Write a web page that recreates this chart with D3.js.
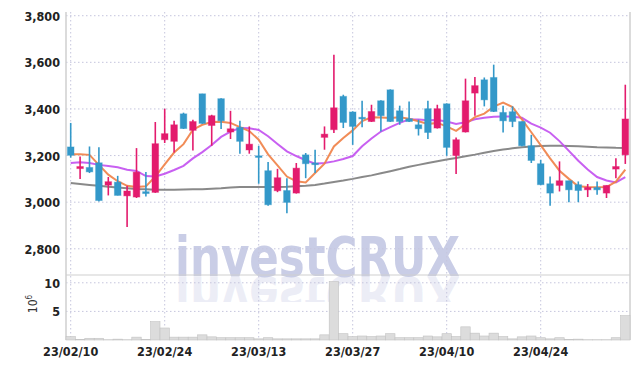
<!DOCTYPE html>
<html>
<head>
<meta charset="utf-8">
<script src="https://cdn.jsdelivr.net/npm/d3@7"></script>
<style>
body { margin: 0; background: #fff; }
text { font-family: "DejaVu Sans Condensed", "Liberation Sans Narrow", sans-serif; }
</style>
</head>
<body>
<div id="chart"></div>
<script>
var dates = ["23/02/10","23/02/13","23/02/14","23/02/15","23/02/16","23/02/17","23/02/20","23/02/21","23/02/22","23/02/23",
	"23/02/24","23/02/27","23/02/28","23/03/02","23/03/03","23/03/06","23/03/07","23/03/08","23/03/09","23/03/10",
	"23/03/13","23/03/14","23/03/15","23/03/16","23/03/17","23/03/20","23/03/21","23/03/22","23/03/23","23/03/24",
	"23/03/27","23/03/28","23/03/29","23/03/30","23/03/31","23/04/03","23/04/04","23/04/05","23/04/06","23/04/07",
	"23/04/10","23/04/11","23/04/12","23/04/13","23/04/14","23/04/17","23/04/18","23/04/19","23/04/20","23/04/21",
	"23/04/24","23/04/25","23/04/26","23/04/27","23/04/28","23/05/02","23/05/03","23/05/04","23/05/08","23/05/09"];

var open  = [3237,3144,3149,3169,3073,3086,3027,3022,3045,3042, 3268,3261,3379,3308,3465,3329,3444,3301,3321,3224,
	3199,3135,3049,3050,3039,3203,3168,3278,3311,3454, 3387,3364,3346,3435,3482,3392,3358,3332,3401,3318,
	3422,3200,3301,3468,3525,3535,3385,3388,3346,3242, 3165,3079,3072,3092,3075,3053,3063,3039,3142,3203];
var high  = [3340,3196,3239,3236,3108,3113,3070,3232,3129,3344, 3401,3349,3384,3354,3465,3375,3446,3392,3349,3325,
	3242,3172,3143,3103,3168,3211,3225,3325,3633,3461, 3390,3435,3418,3437,3484,3414,3432,3354,3435,3418,
	3424,3278,3530,3537,3535,3590,3414,3411,3346,3289, 3182,3110,3175,3092,3089,3078,3089,3072,3189,3504];
var low   = [3191,3099,3125,3003,3029,3029,2893,3018,3024,3040, 3254,3213,3314,3222,3336,3242,3314,3271,3208,3208,
	3079,2985,3043,2953,3037,3103,3125,3225,3297,3318, 3246,3322,3344,3303,3344,3332,3344,3286,3271,3316,
	3199,3121,3299,3371,3411,3387,3299,3322,3240,3168, 3073,2985,3046,3000,3000,3022,3032,3018,3103,3164];
var close = [3201,3153,3130,3007,3088,3029,3048,3129,3037,3251, 3294,3332,3316,3346,3338,3371,3349,3315,3261,3249,
	3192,2989,3105,2999,3146,3165,3161,3292,3405,3342, 3325,3358,3389,3371,3346,3346,3346,3315,3299,3401,
	3235,3268,3435,3500,3439,3389,3349,3346,3242,3179, 3075,3039,3092,3053,3050,3063,3053,3072,3153,3357];

// volume, millions
var volume = [0.6,0.1,0.3,0.3,0.05,0.15,0.05,0.5,0.1,3.2, 2.1,0.5,0.5,0.5,0.9,0.55,0.4,0.4,0.4,0.4,
	0.2,0.4,0.2,0.2,0.2,0.2,0.2,0.9,10.2,1.1, 0.6,0.7,0.6,0.7,1.1,0.4,0.4,0.4,0.7,0.55,
	1.1,0.6,2.3,1.2,0.7,1.2,0.6,0.2,0.55,0.7, 0.4,0.2,0.4,0.1,0.15,0.05,0.05,0.05,0.4,4.25];

var ma5 = [3206,3206,3203,3160,3118,3090,3070,3065,3068,3110, 3162,3213,3249,3311,3332,3344,3345,3340,3322,3305,
	3268,3205,3158,3110,3090,3085,3125,3165,3239,3275, 3308,3348,3364,3363,3361,3364,3358,3347,3336,3340,
	3325,3306,3335,3365,3380,3410,3427,3408,3355,3300, 3245,3188,3135,3100,3068,3065,3064,3065,3088,3140];
var ma20 = [3168,3171,3168,3160,3155,3150,3139,3134,3112,3110, 3122,3138,3156,3188,3215,3245,3280,3303,3318,3317,
	3310,3283,3250,3218,3198,3180,3165,3168,3175,3185, 3198,3240,3273,3303,3322,3340,3355,3355,3351,3353,
	3346,3336,3343,3356,3362,3367,3368,3367,3362,3337, 3320,3298,3262,3220,3178,3140,3108,3093,3085,3108];
var ma60 = [3082,3078,3074,3070,3066,3063,3060,3057,3055,3053, 3053,3053,3054,3055,3056,3058,3060,3063,3065,3065,
	3065,3065,3065,3066,3068,3070,3074,3080,3087,3093, 3100,3108,3115,3124,3133,3142,3152,3160,3168,3176,
	3183,3190,3197,3204,3212,3220,3226,3231,3236,3239, 3241,3242,3242,3241,3240,3238,3236,3235,3233,3232];

var priceTicks = [2800, 3000, 3200, 3400, 3600, 3800];
var volTicks = [5, 10];
var dateTicks = ["23/02/10","23/02/24","23/03/13","23/03/27","23/04/10","23/04/24"];

var upColor = "#e31b6d", downColor = "#3398c9";

var svg = d3.select("#chart")
	.append("svg")
	.attr("width", 639)
	.attr("height", 369);

var pLeft = 66, pRight = 630, pTop = 12, pMid = 275, pBottom = 340;

var x = d3.scaleBand().domain(dates).range([pLeft, pRight]).padding(0);
var cx = d => x(d) + x.bandwidth() / 2;
var y = d3.scaleLinear().domain([2687.6, 3815.9]).range([pMid, pTop]);
var yv = d3.scaleLinear().domain([0, 11.36]).range([pBottom, pMid]);

// watermark + reflection
var wm = svg.append("g");
wm.append("text")
	.attr("x", 175).attr("y", 276)
	.attr("textLength", 285).attr("lengthAdjust", "spacingAndGlyphs")
	.style("font-family", "'DejaVu Sans', sans-serif")
	.style("font-weight", "bold")
	.style("font-size", "55px")
	.attr("fill", "#c9cde6")
	.text("investCRUX");
svg.append("clipPath").attr("id", "refl")
	.append("rect").attr("x", 0).attr("y", 277).attr("width", 639).attr("height", 25);
wm.append("g")
	.attr("clip-path", "url(#refl)")
	.append("text")
	.attr("transform", "translate(0,554) scale(1,-1)")
	.attr("x", 175).attr("y", 277)
	.attr("textLength", 285).attr("lengthAdjust", "spacingAndGlyphs")
	.style("font-family", "'DejaVu Sans', sans-serif")
	.style("font-weight", "bold")
	.style("font-size", "55px")
	.attr("fill", "#c9cde6")
	.attr("fill-opacity", 0.35)
	.text("investCRUX");

// grid
svg.selectAll(".hgrid")
	.data(priceTicks)
	.enter()
	.append("line")
	.attr("class", "hgrid")
	.attr("x1", pLeft).attr("x2", pRight)
	.attr("y1", d => y(d)).attr("y2", d => y(d))
	.attr("stroke", "#c5c5dd")
	.attr("stroke-dasharray", "1.5,2.5");

svg.selectAll(".vgrid")
	.data(volTicks)
	.enter()
	.append("line")
	.attr("class", "vgrid")
	.attr("x1", pLeft).attr("x2", pRight)
	.attr("y1", d => yv(d)).attr("y2", d => yv(d))
	.attr("stroke", "#c5c5dd")
	.attr("stroke-dasharray", "1.5,2.5");

svg.selectAll(".xgrid")
	.data(dateTicks)
	.enter()
	.append("line")
	.attr("class", "xgrid")
	.attr("x1", d => cx(d)).attr("x2", d => cx(d))
	.attr("y1", pTop).attr("y2", pBottom)
	.attr("stroke", "#c5c5dd")
	.attr("stroke-dasharray", "1.5,2.5");

// frame
svg.append("line").attr("x1", pLeft).attr("x2", pLeft).attr("y1", pTop).attr("y2", pBottom).attr("stroke", "#cfcfcf").attr("stroke-width", 1.5);
svg.append("line").attr("x1", pRight).attr("x2", pRight).attr("y1", pTop).attr("y2", pBottom).attr("stroke", "#cfcfcf").attr("stroke-width", 1.5);
svg.append("line").attr("x1", pLeft).attr("x2", pRight).attr("y1", pMid).attr("y2", pMid).attr("stroke", "#cfcfcf").attr("stroke-width", 1.2);

// volume bars
svg.selectAll(".vol")
	.data(dates)
	.enter()
	.append("rect")
	.attr("class", "vol")
	.attr("x", d => x(d))
	.attr("width", x.bandwidth())
	.attr("y", (d, i) => yv(volume[i]))
	.attr("height", (d, i) => yv(0) - yv(volume[i]))
	.attr("fill", "#dcdcdc")
	.attr("stroke", "#c2c2c2")
	.attr("stroke-width", 0.6);

// moving averages
var line = arr => d3.line().x((d, i) => cx(dates[i])).y(d => y(d))(arr);
svg.append("path").attr("d", line(ma60)).attr("fill", "none").attr("stroke", "#7c7c7c").attr("stroke-width", 2).attr("stroke-opacity", 0.9);
svg.append("path").attr("d", line(ma20)).attr("fill", "none").attr("stroke", "#c24ff0").attr("stroke-width", 2).attr("stroke-opacity", 0.9);
svg.append("path").attr("d", line(ma5)).attr("fill", "none").attr("stroke", "#ef7f45").attr("stroke-width", 2).attr("stroke-opacity", 0.9);

// candles
var colr = i => close[i] >= open[i] ? upColor : downColor;
svg.selectAll(".wick")
	.data(dates)
	.enter()
	.append("line")
	.attr("class", "wick")
	.attr("x1", d => cx(d)).attr("x2", d => cx(d))
	.attr("y1", (d, i) => y(high[i]))
	.attr("y2", (d, i) => y(low[i]))
	.attr("stroke", (d, i) => colr(i))
	.attr("stroke-width", 1.6);

svg.selectAll(".body")
	.data(dates)
	.enter()
	.append("rect")
	.attr("class", "body")
	.attr("x", d => cx(d) - 3.3)
	.attr("width", 6.6)
	.attr("y", (d, i) => y(Math.max(open[i], close[i])))
	.attr("height", (d, i) => Math.max(1.5, Math.abs(y(open[i]) - y(close[i]))))
	.attr("fill", (d, i) => colr(i))
	.attr("stroke", (d, i) => colr(i))
	.attr("stroke-opacity", 0.4)
	.attr("stroke-width", 1);

// axis labels
var lab = { "font-size": "12.5px", "font-weight": "bold" };
svg.selectAll(".ylab")
	.data(priceTicks)
	.enter()
	.append("text")
	.attr("class", "ylab")
	.attr("x", 60)
	.attr("y", d => y(d) + 5)
	.text(d => d3.format(",")(d))
	.style("font-size", lab["font-size"])
	.style("font-weight", lab["font-weight"])
	.style("text-anchor", "end")
	.attr("fill", "#222");

svg.selectAll(".vlab")
	.data(volTicks)
	.enter()
	.append("text")
	.attr("class", "vlab")
	.attr("x", 60)
	.attr("y", d => yv(d) + 5)
	.text(d => d)
	.style("font-size", lab["font-size"])
	.style("font-weight", lab["font-weight"])
	.style("text-anchor", "end")
	.attr("fill", "#222");

svg.selectAll(".xlab")
	.data(dateTicks)
	.enter()
	.append("text")
	.attr("class", "xlab")
	.attr("x", d => cx(d))
	.attr("y", 356)
	.text(d => d)
	.style("font-size", lab["font-size"])
	.style("font-weight", lab["font-weight"])
	.style("text-anchor", "middle")
	.attr("fill", "#222");

var unit = svg.append("text")
	.attr("transform", "translate(37,304) rotate(-90)")
	.style("font-size", "12px")
	.style("text-anchor", "middle")
	.attr("fill", "#333");
unit.append("tspan").text("10");
unit.append("tspan").attr("dy", -5).style("font-size", "8px").text("6");
</script>
</body>
</html>
